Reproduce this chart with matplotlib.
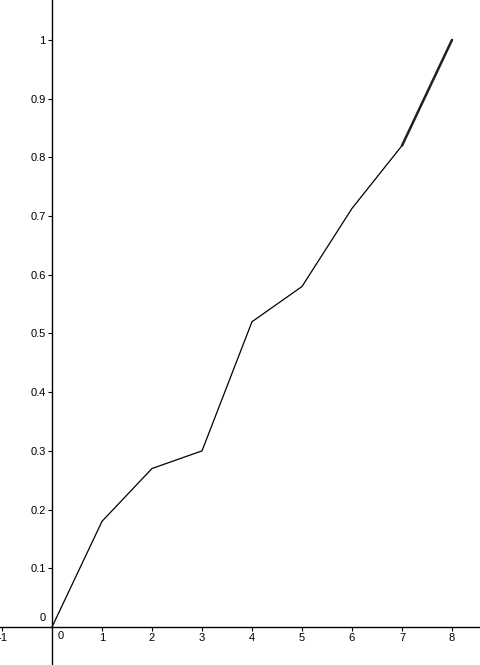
import matplotlib.pyplot as plt
import numpy as np

# points
x_vals = [0, 1, 2, 3, 4, 5, 6, 7, 8]
y_vals = [0, 0.18, 0.27, 0.30, 0.52, 0.58, 0.713, 0.82, 1.0]

x_ticks = [-1, 1, 2, 3, 4, 5, 6, 7, 8]
y_ticks = [0.1, 0.2, 0.3, 0.4, 0.5, 0.6, 0.7, 0.8, 0.9, 1]

plt.rcParams['font.family'] = ['Liberation Sans', 'DejaVu Sans']

fig = plt.figure(figsize=(4.8, 6.65), dpi=100)
ax = fig.add_axes([0, 0, 1, 1])

ax.plot(x_vals, y_vals, color='black', linewidth=0.9)
# last segment looks heavier in the reference
ax.plot(x_vals[-2:], y_vals[-2:], color='#222222', linewidth=1.8, solid_capstyle='round')

ax.set_xlim(-1.04, 8.56)
ax.set_ylim(-0.0647, 1.068)

for s in ['top', 'right']:
    ax.spines[s].set_visible(False)
ax.spines['left'].set_position(('data', 0))
ax.spines['bottom'].set_position(('data', 0))
ax.spines['left'].set_linewidth(1)
ax.spines['bottom'].set_linewidth(1)

ax.set_xticks(x_ticks)
ax.set_xticklabels([str(t) for t in x_ticks])
ax.set_yticks(y_ticks)
ax.set_yticklabels([('%g' % t) for t in y_ticks])
ax.tick_params(axis='x', direction='out', length=3, width=0.8, labelsize=8, pad=1.5)
ax.tick_params(axis='y', direction='out', length=3, width=0.8, labelsize=8, pad=1.5)

# zero labels like GeoGebra: one above-left, one below-right of the origin
ax.annotate('0', xy=(0, 0), xytext=(-7, 3), textcoords='offset points',
            fontsize=8, ha='center', va='bottom')
ax.annotate('0', xy=(0, 0), xytext=(6, -3), textcoords='offset points',
            fontsize=8, ha='center', va='top')

fig.savefig('out.png', dpi=100)
